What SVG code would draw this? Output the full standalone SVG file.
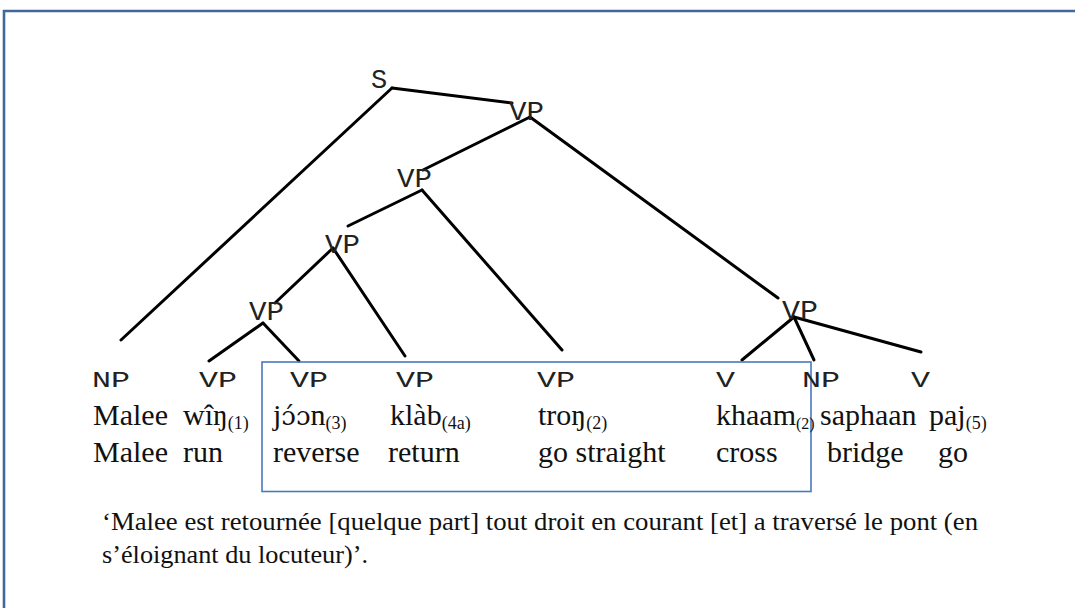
<svg xmlns="http://www.w3.org/2000/svg" width="1075" height="608" viewBox="0 0 1075 608">
<style>
.cat{font-family:"Liberation Mono",monospace;font-size:27px;fill:#222}
.lab{font-family:"Liberation Mono",monospace;font-size:22px;fill:#222}
.w{font-family:"Liberation Serif","Times New Roman",serif;font-size:30px;fill:#111}
.sub{font-size:18px}
.gl{font-family:"Liberation Serif","Times New Roman",serif;font-size:30px;fill:#111}
.tr{font-family:"Liberation Serif","Times New Roman",serif;font-size:26px;fill:#111}
.ipa{font-family:"DejaVu Serif","Liberation Serif",serif;font-size:26px}
.edge{stroke:#000;stroke-width:3;fill:none;stroke-linecap:round}
</style>
<rect width="1075" height="608" fill="#fff"/>
<path d="M4,608 V11 H1075" fill="none" stroke="#41679b" stroke-width="2.6"/>
<g id="connectors">
<line class="edge" x1="392" y1="88" x2="121" y2="340"/>
<line class="edge" x1="392" y1="88" x2="512" y2="103"/>
<line class="edge" x1="530" y1="117" x2="423" y2="170"/>
<line class="edge" x1="530" y1="117" x2="778" y2="298"/>
<line class="edge" x1="422" y1="190" x2="348" y2="226"/>
<line class="edge" x1="422" y1="190" x2="562" y2="350"/>
<line class="edge" x1="333" y1="248" x2="275" y2="303"/>
<line class="edge" x1="333" y1="248" x2="405" y2="356"/>
<line class="edge" x1="263" y1="323" x2="209" y2="361"/>
<line class="edge" x1="263" y1="323" x2="299" y2="361"/>
<line class="edge" x1="794" y1="317" x2="742" y2="360"/>
<line class="edge" x1="794" y1="317" x2="814" y2="360"/>
<line class="edge" x1="794" y1="317" x2="921" y2="352"/>
</g>
<g id="node-S"><text class="cat" x="371" y="88">S</text></g>
<g id="node-VP1"><text class="cat" x="509" y="120" textLength="35" lengthAdjust="spacingAndGlyphs">VP</text></g>
<g id="node-VP2"><text class="cat" x="397" y="187" textLength="35" lengthAdjust="spacingAndGlyphs">VP</text></g>
<g id="node-VP3"><text class="cat" x="325" y="253" textLength="35" lengthAdjust="spacingAndGlyphs">VP</text></g>
<g id="node-VP4"><text class="cat" x="249" y="320" textLength="35" lengthAdjust="spacingAndGlyphs">VP</text></g>
<g id="node-VP5"><text class="cat" x="782" y="319" textLength="36" lengthAdjust="spacingAndGlyphs">VP</text></g>
<g id="box"><rect x="262" y="362" width="549" height="129.5" fill="none" stroke="#4a78c0" stroke-width="1.6"/></g>
<g id="col-Malee">
<text class="lab" x="92" y="387" textLength="38" lengthAdjust="spacingAndGlyphs">NP</text>
<text class="w" x="93" y="425">Malee</text>
<text class="gl" x="93" y="462">Malee</text>
</g>
<g id="col-win">
<text class="lab" x="199" y="387" textLength="38" lengthAdjust="spacingAndGlyphs">VP</text>
<text class="w" x="183" y="425">wîŋ<tspan class="sub" dy="4">(1)</tspan></text>
<text class="gl" x="183" y="462">run</text>
</g>
<g id="col-joon">
<text class="lab" x="290" y="387" textLength="38" lengthAdjust="spacingAndGlyphs">VP</text>
<text class="w" x="273" y="425">j<tspan class="ipa">ɔ́ɔ</tspan>n<tspan class="sub" dy="4">(3)</tspan></text>
<text class="gl" x="273" y="462">reverse</text>
</g>
<g id="col-klab">
<text class="lab" x="396" y="387" textLength="38" lengthAdjust="spacingAndGlyphs">VP</text>
<text class="w" x="390" y="425">klàb<tspan class="sub" dy="4">(4a)</tspan></text>
<text class="gl" x="388" y="462">return</text>
</g>
<g id="col-tron">
<text class="lab" x="537" y="387" textLength="38" lengthAdjust="spacingAndGlyphs">VP</text>
<text class="w" x="538" y="425">troŋ<tspan class="sub" dy="4">(2)</tspan></text>
<text class="gl" x="538" y="462">go straight</text>
</g>
<g id="col-khaam">
<text class="lab" x="716" y="387" textLength="19" lengthAdjust="spacingAndGlyphs">V</text>
<text class="w" x="716" y="425">khaam<tspan class="sub" dy="4" style="font-size:16px">(2)</tspan></text>
<text class="gl" x="716" y="462">cross</text>
</g>
<g id="col-saphaan">
<text class="lab" x="802" y="387" textLength="38" lengthAdjust="spacingAndGlyphs">NP</text>
<text class="w" x="820" y="425">saphaan</text>
<text class="gl" x="827" y="462">bridge</text>
</g>
<g id="col-paj">
<text class="lab" x="911" y="387" textLength="19" lengthAdjust="spacingAndGlyphs">V</text>
<text class="w" x="929" y="425">paj<tspan class="sub" dy="4">(5)</tspan></text>
<text class="gl" x="938" y="462">go</text>
</g>
<g id="translation">
<text class="tr" x="102" y="530" textLength="876" lengthAdjust="spacingAndGlyphs">‘Malee est retournée [quelque part] tout droit en courant [et] a traversé le pont (en</text>
<text class="tr" x="102" y="563" textLength="266" lengthAdjust="spacingAndGlyphs">s’éloignant du locuteur)’.</text>
</g>
</svg>
